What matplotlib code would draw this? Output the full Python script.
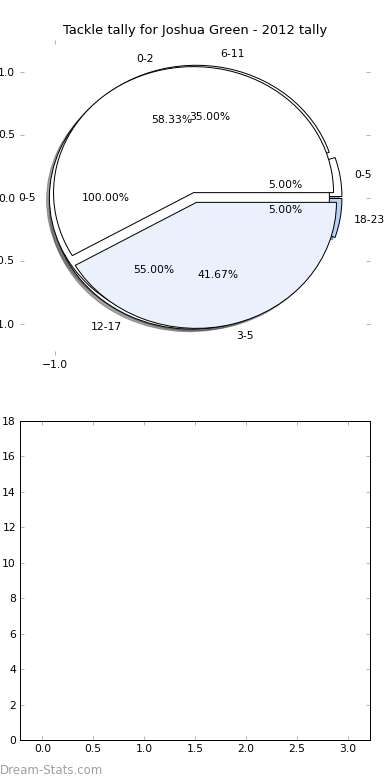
import matplotlib
matplotlib.use("Agg")
import matplotlib.pyplot as plt

# three tallies drawn on top of each other, the way the site did it
all_labels = ["0-5"]
all_values = [1]

half_labels = ["0-2", "3-5"]
half_values = [7, 5]

period_labels = ["0-5", "6-11", "12-17", "18-23"]
period_values = [1, 7, 11, 1]

title = "Tackle tally for Joshua Green - 2012 tally"

W, H, DPI = 390, 780, 72
fig = plt.figure(figsize=(W / DPI, H / DPI), dpi=DPI)
plt.rcParams['font.size'] = 10.8

tick_grey = '#b4b4b4'
edge = dict(edgecolor='black', linewidth=1.0)
txt = dict(fontsize=10.8)

ax = fig.add_axes([20 / W, 1 - 355 / H, 350 / W, 315 / H])

ax.pie(period_values, labels=period_labels, explode=[0.05, 0.05, 0.05, 0.05],
       colors=['white', 'white', 'white', '#b7d1f5'],
       autopct='%.2f%%', shadow=True, wedgeprops=edge, textprops=txt)
ax.pie(all_values, labels=all_labels, explode=[0.04], colors=['white'],
       autopct='%.2f%%', shadow=True, wedgeprops=edge, textprops=txt)
ax.pie(half_values, labels=half_labels, explode=[0.04, 0.04],
       colors=['white', '#eaf1fd'],
       autopct='%.2f%%', shadow=True, wedgeprops=edge, textprops=txt)

ax.set_aspect('auto')
ax.set_xlim(-1.25, 1.25)
ax.set_ylim(-1.25, 1.25)
ax.set_frame_on(False)
ax.set_xticks([-1.0], labels=['\u22121.0'])
ax.set_yticks([-1.0, -0.5, 0.0, 0.5, 1.0],
              labels=['\u22121.0', '\u22120.5', '0.0', '0.5', '1.0'])
ax.tick_params(direction='in', length=4, width=1, color=tick_grey, pad=5,
               top=True, right=True, labelsize=10.8)
ax.set_title(title, fontsize=13, pad=6)

ax2 = fig.add_axes([20 / W, 1 - 740 / H, 350 / W, 319 / H])
ax2.set_xlim(-0.22, 3.22)
ax2.set_ylim(0, 18)
ax2.set_xticks([0.0, 0.5, 1.0, 1.5, 2.0, 2.5, 3.0])
ax2.set_yticks(range(0, 19, 2))
ax2.xaxis.set_major_formatter(matplotlib.ticker.FormatStrFormatter('%.1f'))
ax2.tick_params(direction='in', length=4, width=1, color=tick_grey, pad=4,
                top=True, right=True, labelsize=10.8)
for s in ax2.spines.values():
    s.set_linewidth(1.0)

fig.text(0.0, 1 - 770 / H, "Dream-Stats.com", fontsize=11.8, color='#a0a0a0',
         ha='left', va='center')

fig.savefig("out.png", dpi=DPI)
